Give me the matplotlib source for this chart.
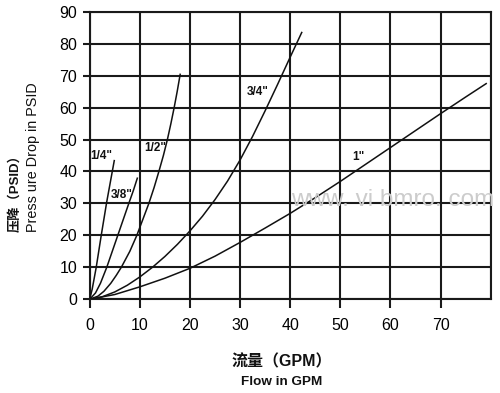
import matplotlib
matplotlib.use("Agg")
import matplotlib.pyplot as plt

# Curvas de caida de presion (GPM vs PSID)
x_14 = [0, 0.5, 1.3, 2.3, 3.4, 4.9]
y_14 = [0, 3.2, 10, 20, 30.5, 43.4]

x_38 = [0, 1.16, 2.14, 3.4, 4.5, 5.6, 6.7, 7.8, 8.7, 9.5]
y_38 = [0, 2, 5, 10, 15, 20, 25, 30, 34, 37.9]

x_12 = [0, 1.66, 2.83, 4.2, 5.3, 6.3, 8.0, 9.4, 10.6, 11.8, 12.85, 13.8, 14.7, 15.5, 16.2, 16.85, 17.45, 18.05]
y_12 = [0, 1, 2.5, 5, 7.5, 10, 15, 20, 25, 30, 35, 40, 45, 50, 55, 60, 65, 70.4]

x_34 = [0, 2.5, 5, 7.5, 10, 12.5, 15, 17.5, 20, 22.5, 25, 27.5, 30, 32.5, 35, 37.5, 40, 42.3]
y_34 = [0, 0.8, 2.3, 4.4, 7.0, 10.0, 13.4, 17.2, 21.4, 26.0, 31.2, 37.0, 43.6, 51.0, 59.0, 67.3, 75.8, 83.5]

x_1 = [0, 5, 10, 15, 20, 25, 30, 35, 40, 45, 50, 55, 60, 65, 70, 75, 79.1]
y_1 = [0, 1.5, 3.9, 6.6, 9.7, 13.5, 17.8, 22.3, 26.9, 31.8, 36.9, 42.2, 47.5, 52.8, 58.1, 63.3, 67.5]

labels = ['1/4"', '3/8"', '1/2"', '3/4"', '1"']
label_x = [2.3, 6.3, 13.0, 33.6, 53.7]
label_y = [44.7, 32.7, 47.3, 64.9, 44.4]

xticks = [0, 10, 20, 30, 40, 50, 60, 70]
yticks = [0, 10, 20, 30, 40, 50, 60, 70, 80, 90]

latin = 'Liberation Sans'
cjk = ['Liberation Sans', 'Noto Sans CJK SC']

fig = plt.figure(figsize=(5, 3.93), dpi=100)
ax = fig.add_axes([0.1794, 0.2384, 0.802, 0.7318])

# rejilla negra gruesa
for xv in xticks + [80]:
    ax.axvline(xv, color='#1a1a1a', lw=1.5, zorder=1)
for yv in yticks:
    ax.axhline(yv, color='#1a1a1a', lw=1.5, zorder=1)

for xs, ys in [(x_14, y_14), (x_38, y_38), (x_12, y_12), (x_34, y_34), (x_1, y_1)]:
    ax.plot(xs, ys, color='#111111', lw=1.1, zorder=3)

for t, lx, ly in zip(labels, label_x, label_y):
    ax.text(lx, ly, t, fontsize=8.5, fontweight='bold', family=latin,
            ha='center', va='center', color='#111111', zorder=4)

ax.set_xlim(0, 80)
ax.set_ylim(0, 90)
ax.set_xticks(xticks)
ax.set_yticks(yticks)
ax.set_xticklabels([str(v) for v in xticks], family=latin, fontsize=11.5)
ax.set_yticklabels([str(v) for v in yticks], family=latin, fontsize=11.5)
ax.tick_params(axis='x', length=6.5, width=1.5, pad=7, color='#1a1a1a')
ax.tick_params(axis='y', length=5, width=1.5, pad=4, color='#1a1a1a')
for s in ax.spines.values():
    s.set_linewidth(1.5)
    s.set_color('#1a1a1a')

# marca de agua
fig.text(0.582, 0.491, 'www. vi bmro. com', fontsize=17.5, family=latin,
         color='#cccccc', ha='left', va='center', zorder=0)

# titulos de ejes
fig.text(0.03, 0.4097, '压降（PSID）', rotation=90, rotation_mode='anchor',
         ha='left', va='center', fontsize=9.5, family=cjk, fontweight='bold', color='#111111')
fig.text(0.066, 0.4097, 'Press ure Drop in PSID', rotation=90, rotation_mode='anchor',
         ha='left', va='center', fontsize=10.4, family=latin, color='#111111')
fig.text(0.564, 0.0789, '流量（GPM）', ha='center', va='center',
         fontsize=11.5, family=cjk, fontweight='bold', color='#111111')
fig.text(0.564, 0.028, 'Flow in GPM', ha='center', va='center',
         fontsize=9.7, family=latin, fontweight='bold', color='#111111')

fig.savefig('out.png', dpi=100, facecolor='white')
